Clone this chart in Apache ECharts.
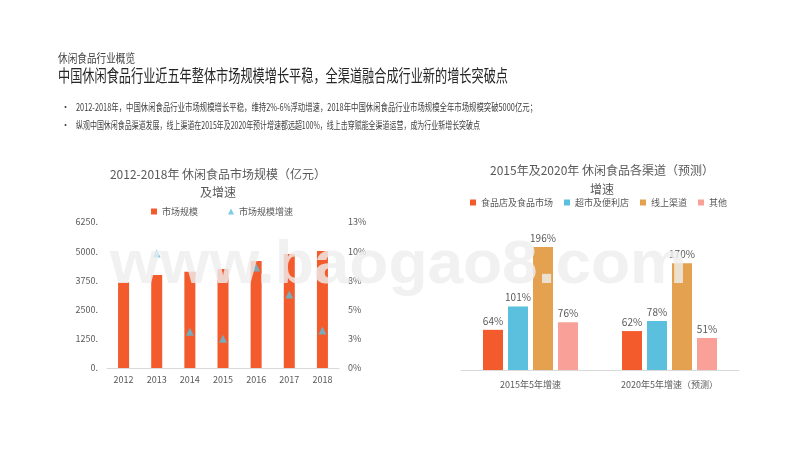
<!DOCTYPE html>
<html>
<head>
<meta charset="utf-8">
<script src="https://cdn.jsdelivr.net/npm/echarts@6/dist/echarts.min.js"></script>
<style>html,body{margin:0;padding:0;background:#fff;}#c{width:800px;height:450px;}</style>
</head>
<body>
<div id="c"></div>
<script>
// ---- data ----
const headerSmall = '休闲食品行业概览';
const headerMain = '中国休闲食品行业近五年整体市场规模增长平稳，全渠道融合成行业新的增长突破点';
const bullets = [
  '2012-2018年，中国休闲食品行业市场规模增长平稳，维持2%-6%浮动增速，2018年中国休闲食品行业市场规模全年市场规模突破5000亿元；',
  '纵观中国休闲食品渠道发展，线上渠道在2015年及2020年预计增速都远超100%，线上击穿赋能全渠道运营，成为行业新增长突破点'
];
const leftTitle = '2012-2018年 休闲食品市场规模（亿元）\n及增速';
const years = ['2012', '2013', '2014', '2015', '2016', '2017', '2018'];
const marketSize = [3664, 3978, 4121, 4237, 4582, 4884, 5013];
const growthRate = [9.8, 3.1, 2.5, 8.6, 6.3, 3.2];
const growthYears = ['2013', '2014', '2015', '2016', '2017', '2018'];
const sizeName = '市场规模';
const growthName = '市场规模增速';

const rightTitle = '2015年及2020年 休闲食品各渠道（预测）\n增速';
const periods = ['2015年5年增速', '2020年5年增速（预测）'];
const channelNames = ['食品店及食品市场', '超市及便利店', '线上渠道', '其他'];
const channelFoodStore = [64, 62];
const channelSupermarket = [101, 78];
const channelOnline = [196, 170];
const channelOther = [76, 51];
const watermark = 'www.baogao8.com';

// ---- helpers ----
const cv = document.createElement('canvas').getContext('2d');
function fitScale(text, font, target) {
  cv.font = font;
  const w = cv.measureText(text).width;
  return w > 0 ? target / w : 1;
}
const CJK = '"Noto Sans CJK SC", "Noto Sans", sans-serif';
const txt = '#595959';
const colRed = '#F35A2C', colBlue = '#5BBFDE', colOrange = '#E4A14F', colPink = '#F9A098';

const chart = echarts.init(document.getElementById('c'));

const growthData = years.map(y => {
  const i = growthYears.indexOf(y);
  return i >= 0 ? growthRate[i] : null;
});

function textEl(text, x, y, size, color, target, weight) {
  const font = (weight || 'normal') + ' ' + size + 'px ' + CJK;
  const sx = target ? fitScale(text, font, target) : 1;
  return {
    type: 'text', x: x, y: y, scaleX: sx, z: 10,
    style: { text: text, fill: color, font: font, textAlign: 'left', textVerticalAlign: 'middle' }
  };
}

const wmFont = 'bold 62px "Liberation Sans", Arial, sans-serif';

const channelSeries = [channelFoodStore, channelSupermarket, channelOnline, channelOther];
const channelColors = [colRed, colBlue, colOrange, colPink];

chart.setOption({
  animation: false,
  textStyle: { fontFamily: CJK },
  title: [
    { text: leftTitle, left: 213, top: 160, textAlign: 'center',
      textStyle: { fontSize: 12, fontWeight: 'normal', color: txt, lineHeight: 18 } },
    { text: rightTitle, left: 597, top: 156, textAlign: 'center',
      textStyle: { fontSize: 12, fontWeight: 'normal', color: txt, lineHeight: 19 } }
  ],
  legend: [
    { left: 146, top: 202, itemWidth: 6, itemHeight: 6, itemGap: 30,
      textStyle: { fontSize: 9, color: txt },
      data: [{ name: sizeName, icon: 'rect' }, { name: growthName, icon: 'triangle' }] },
    { left: 465, top: 193, itemWidth: 6, itemHeight: 6, itemGap: 11,
      textStyle: { fontSize: 9, color: txt },
      data: channelNames.map(n => ({ name: n, icon: 'rect' })) }
  ],
  grid: [
    { left: 107, right: 461, top: 222, bottom: 82 },
    { left: 461, right: 61, top: 213, bottom: 80 }
  ],
  xAxis: [
    { type: 'category', gridIndex: 0, data: years,
      axisLine: { lineStyle: { color: '#D9D9D9' } }, axisTick: { show: false },
      axisLabel: { fontSize: 9, color: txt, margin: 7 } },
    { type: 'category', gridIndex: 1, data: periods,
      axisLine: { lineStyle: { color: '#D9D9D9' } }, axisTick: { show: false },
      axisLabel: { fontSize: 9, color: txt, margin: 10 } }
  ],
  yAxis: [
    { type: 'value', gridIndex: 0, min: 0, max: 6250, interval: 1250,
      splitLine: { show: false }, axisLine: { show: false }, axisTick: { show: false },
      axisLabel: { fontSize: 9, color: txt, margin: 9, formatter: v => v + '.' } },
    { type: 'value', gridIndex: 0, position: 'right', min: 0, max: 12.5, interval: 2.5,
      splitLine: { show: false }, axisLine: { show: false }, axisTick: { show: false },
      axisLabel: { fontSize: 9, color: txt, margin: 9, formatter: v => Math.round(v) + '%' } },
    { type: 'value', gridIndex: 1, min: 0, max: 250, show: false }
  ],
  series: [
    { name: sizeName, type: 'bar', xAxisIndex: 0, yAxisIndex: 0, data: marketSize,
      barWidth: 11, itemStyle: { color: colRed } },
    { name: growthName, type: 'scatter', xAxisIndex: 0, yAxisIndex: 1, data: growthData,
      symbol: 'triangle', symbolSize: 8, itemStyle: { color: colBlue } }
  ].concat(channelNames.map((n, i) => ({
    name: n, type: 'bar', xAxisIndex: 1, yAxisIndex: 2, data: channelSeries[i],
    barWidth: 20, barGap: '25%', itemStyle: { color: channelColors[i] },
    label: { show: true, position: 'top', distance: 4, fontSize: 10, color: txt, formatter: '{c}%' }
  }))),
  graphic: [
    textEl(headerSmall, 58, 58, 12, '#404040', 77),
    textEl(headerMain, 58, 76, 17, '#262626', 450),
    { type: 'text', x: 61, y: 107, z: 10, style: { text: '•', fill: '#404040', font: '9px ' + CJK, textVerticalAlign: 'middle' } },
    { type: 'text', x: 61, y: 125, z: 10, style: { text: '•', fill: '#404040', font: '9px ' + CJK, textVerticalAlign: 'middle' } },
    textEl(bullets[0], 76, 107, 10, '#404040', 461),
    textEl(bullets[1], 76, 125, 10, '#404040', 404),
    { type: 'text', x: 110, y: 266, z: 100, scaleX: fitScale(watermark, wmFont, 577),
      style: { text: watermark, font: wmFont, fill: 'rgba(238,238,238,0.82)',
        textVerticalAlign: 'middle', shadowColor: 'rgba(0,0,0,0.18)', shadowBlur: 3, shadowOffsetX: 1, shadowOffsetY: 1 } }
  ]
});
</script>
</body>
</html>
